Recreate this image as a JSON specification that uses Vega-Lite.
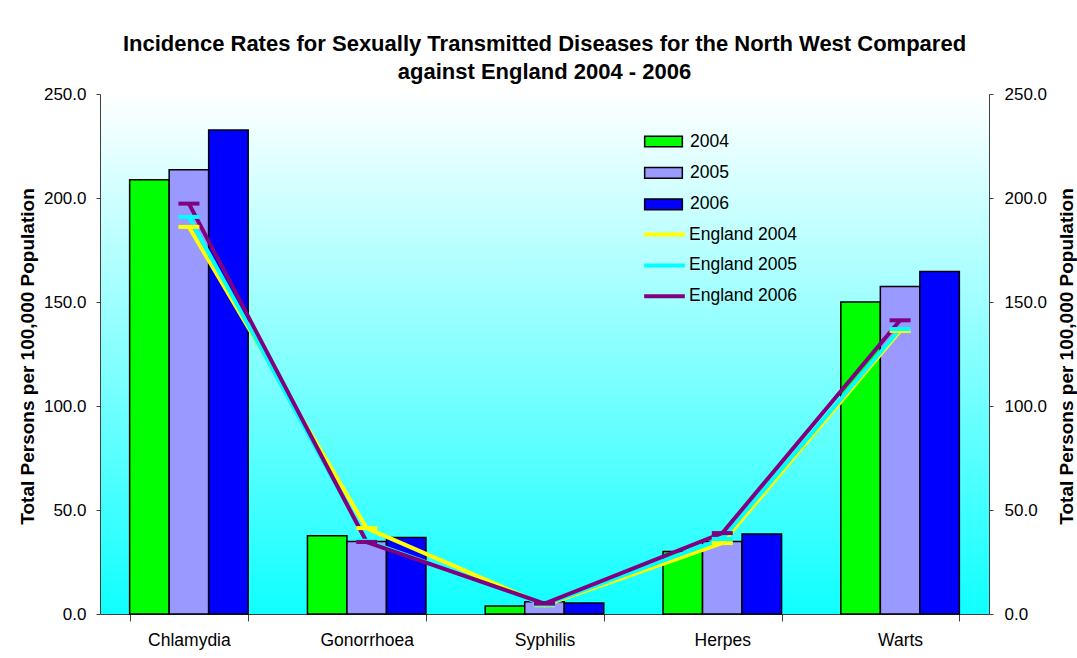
{
  "$schema": "https://vega.github.io/schema/vega-lite/v6.json",
  "autosize": "none",
  "width": 889,
  "height": 520,
  "padding": {"left": 100, "top": 94, "right": 88, "bottom": 44},
  "background": "white",
  "title": {
    "text": ["Incidence Rates for Sexually Transmitted Diseases for the North West Compared", "against England 2004 - 2006"],
    "fontSize": 22,
    "fontWeight": "bold",
    "lineHeight": 28,
    "anchor": "middle",
    "offset": 1,
    "color": "black"
  },
  "config": {
    "font": "Liberation Sans",
    "view": {
      "stroke": null,
      "fill": {
        "gradient": "linear",
        "x1": 0, "y1": 0, "x2": 0, "y2": 1,
        "stops": [
          {"offset": 0, "color": "#ffffff"},
          {"offset": 1, "color": "#10ffff"}
        ]
      }
    },
    "axis": {
      "grid": false,
      "labelColor": "black",
      "titleColor": "black",
      "domainColor": "#404040",
      "tickColor": "#404040",
      "labelFont": "Liberation Sans",
      "titleFont": "Liberation Sans"
    },
    "legend": {"labelFont": "Liberation Sans", "labelColor": "black"}
  },
  "data": {
    "values": [
      {"disease": "Chlamydia", "series": "2004", "kind": "NW", "value": 208.8},
      {"disease": "Chlamydia", "series": "2005", "kind": "NW", "value": 213.6},
      {"disease": "Chlamydia", "series": "2006", "kind": "NW", "value": 232.7},
      {"disease": "Gonorrhoea", "series": "2004", "kind": "NW", "value": 37.6},
      {"disease": "Gonorrhoea", "series": "2005", "kind": "NW", "value": 34.8},
      {"disease": "Gonorrhoea", "series": "2006", "kind": "NW", "value": 36.8},
      {"disease": "Syphilis", "series": "2004", "kind": "NW", "value": 3.8},
      {"disease": "Syphilis", "series": "2005", "kind": "NW", "value": 5.9},
      {"disease": "Syphilis", "series": "2006", "kind": "NW", "value": 5.3},
      {"disease": "Herpes", "series": "2004", "kind": "NW", "value": 30.0},
      {"disease": "Herpes", "series": "2005", "kind": "NW", "value": 34.8},
      {"disease": "Herpes", "series": "2006", "kind": "NW", "value": 38.5},
      {"disease": "Warts", "series": "2004", "kind": "NW", "value": 150.0},
      {"disease": "Warts", "series": "2005", "kind": "NW", "value": 157.5},
      {"disease": "Warts", "series": "2006", "kind": "NW", "value": 164.7},
      {"disease": "Chlamydia", "series": "England 2004", "kind": "England", "value": 186.1},
      {"disease": "Gonorrhoea", "series": "England 2004", "kind": "England", "value": 41.3},
      {"disease": "Syphilis", "series": "England 2004", "kind": "England", "value": 4.2},
      {"disease": "Herpes", "series": "England 2004", "kind": "England", "value": 34.1},
      {"disease": "Warts", "series": "England 2004", "kind": "England", "value": 136.1},
      {"disease": "Chlamydia", "series": "England 2005", "kind": "England", "value": 190.9},
      {"disease": "Gonorrhoea", "series": "England 2005", "kind": "England", "value": 35.2},
      {"disease": "Syphilis", "series": "England 2005", "kind": "England", "value": 4.5},
      {"disease": "Herpes", "series": "England 2005", "kind": "England", "value": 36.1},
      {"disease": "Warts", "series": "England 2005", "kind": "England", "value": 137.0},
      {"disease": "Chlamydia", "series": "England 2006", "kind": "England", "value": 197.3},
      {"disease": "Gonorrhoea", "series": "England 2006", "kind": "England", "value": 34.6},
      {"disease": "Syphilis", "series": "England 2006", "kind": "England", "value": 5.0},
      {"disease": "Herpes", "series": "England 2006", "kind": "England", "value": 38.9},
      {"disease": "Warts", "series": "England 2006", "kind": "England", "value": 141.2}
    ]
  },
  "resolve": {"axis": {"y": "independent"}},
  "layer": [
    {
      "transform": [{"filter": "datum.kind === 'NW'"}],
      "mark": {"type": "bar", "stroke": "black", "strokeWidth": 1.5},
      "encoding": {
        "x": {
          "field": "disease", "type": "nominal",
          "sort": ["Chlamydia", "Gonorrhoea", "Syphilis", "Herpes", "Warts"],
          "scale": {"paddingInner": 0.3333, "paddingOuter": 0.1667},
          "axis": {"title": null, "labelAngle": 0, "labelFontSize": 17.5, "labelPadding": 10, "tickSize": 7, "tickBand": "extent", "domainWidth": 1}
        },
        "xOffset": {"field": "series", "type": "nominal", "sort": ["2004", "2005", "2006"], "scale": {"paddingInner": 0, "paddingOuter": 0}},
        "y": {
          "field": "value", "type": "quantitative",
          "scale": {"domain": [0, 250], "nice": false},
          "axis": {
            "orient": "left", "values": [0, 50, 100, 150, 200, 250], "format": ".1f",
            "labelFontSize": 17, "labelPadding": 10, "tickSize": 4,
            "title": "Total Persons per 100,000 Population",
            "titleFontSize": 19, "titleFontWeight": "bold",
            "titleAngle": 270, "titleX": -67, "titleY": 262, "titleAlign": "center", "titleBaseline": "alphabetic"
          }
        },
        "fill": {
          "field": "series", "type": "nominal",
          "scale": {"domain": ["2004", "2005", "2006"], "range": ["#00ff00", "#9999ff", "#0000ff"]},
          "legend": {
            "title": null, "orient": "none", "legendX": 553, "legendY": 37,
            "symbolType": "M-2,-0.567H2V0.567H-2Z", "symbolSize": 355,
            "symbolStrokeColor": "black", "symbolStrokeWidth": 1.5, "symbolOpacity": 1,
            "labelFontSize": 17.5, "labelOffset": 16, "rowPadding": 12.4, "padding": 0
          }
        }
      }
    },
    {
      "transform": [{"filter": "datum.kind === 'England'"}],
      "mark": {"type": "line", "strokeWidth": 4},
      "encoding": {
        "x": {
          "field": "disease", "type": "nominal",
          "sort": ["Chlamydia", "Gonorrhoea", "Syphilis", "Herpes", "Warts"]
        },
        "y": {"field": "value", "type": "quantitative", "axis": null},
        "stroke": {
          "field": "series", "type": "nominal",
          "scale": {"domain": ["England 2004", "England 2005", "England 2006"], "range": ["#ffff00", "#00ffff", "#800080"]},
          "legend": {
            "title": null, "orient": "none", "legendX": 552, "legendY": 128,
            "symbolType": "M-2,0H2", "symbolSize": 414, "symbolStrokeWidth": 4, "symbolFillColor": "transparent",
            "labelFontSize": 17.5, "labelOffset": 12, "rowPadding": 9.9, "padding": 0
          }
        }
      }
    },
    {
      "transform": [{"filter": "datum.kind === 'England'"}],
      "mark": {"type": "point", "shape": "M-1,0H1", "size": 441, "strokeWidth": 4, "filled": false, "opacity": 1},
      "encoding": {
        "x": {
          "field": "disease", "type": "nominal",
          "sort": ["Chlamydia", "Gonorrhoea", "Syphilis", "Herpes", "Warts"]
        },
        "y": {
          "field": "value", "type": "quantitative",
          "axis": {
            "orient": "right", "values": [0, 50, 100, 150, 200, 250], "format": ".1f",
            "labelFontSize": 17, "labelPadding": 11, "tickSize": 4,
            "title": "Total Persons per 100,000 Population",
            "titleFontSize": 19, "titleFontWeight": "bold",
            "titleAngle": 270, "titleX": 83, "titleY": 262, "titleAlign": "center", "titleBaseline": "alphabetic"
          }
        },
        "stroke": {"field": "series", "type": "nominal"}
      }
    }
  ]
}
